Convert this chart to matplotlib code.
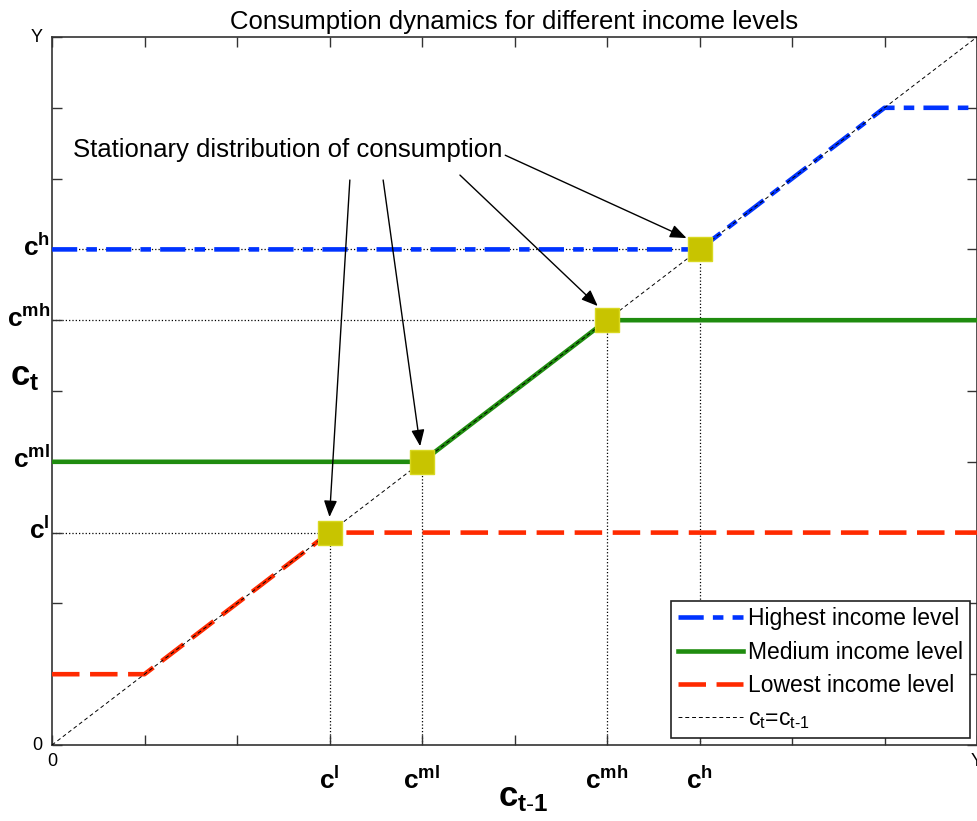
import numpy as np
import matplotlib
matplotlib.use("Agg")
import matplotlib.pyplot as plt

plt.rcParams['font.family'] = ['Liberation Sans', 'DejaVu Sans']
plt.rcParams['mathtext.fontset'] = 'custom'
plt.rcParams['mathtext.rm'] = 'Liberation Sans'
plt.rcParams['mathtext.it'] = 'Liberation Sans:italic'
plt.rcParams['mathtext.bf'] = 'Liberation Sans:bold'

# piecewise consumption policies (c_{t-1} -> c_t), axis runs 0..Y (=10)
x_grid = [0, 1, 2, 3, 4, 5, 6, 7, 8, 9, 10]
low_x = [0, 1, 3, 10]
low_y = [1, 1, 3, 3]
med_x = [0, 4, 6, 10]
med_y = [4, 4, 6, 6]
high_x = [0, 7, 9, 10]
high_y = [7, 7, 9, 9]
stat_pts = [3, 4, 6, 7]   # c^l, c^ml, c^mh, c^h
tick_vals = [0, 3, 4, 6, 7, 10]
tick_labels = ['0', r'$\mathbf{c^{l}}$', r'$\mathbf{c^{ml}}$', r'$\mathbf{c^{mh}}$', r'$\mathbf{c^{h}}$', 'Y']

# annotation arrows: start, end (data units)
arrow_from = [(3.22, 7.98), (3.58, 7.98), (4.41, 8.05), (4.9, 8.33)]
arrow_to = [(3.0, 3.22), (3.98, 4.22), (5.9, 6.2), (6.86, 7.16)]

fig = plt.figure(figsize=(9.77, 8.21), dpi=100)
ax = fig.add_axes([52/977, 76/821, 925/977, 708/821])

# dotted guides
for p in stat_pts:
    ax.plot([p, p], [0, p], color='k', ls=':', lw=0.9, zorder=1)
    ax.plot([0, p], [p, p], color='k', ls=':', lw=0.9, zorder=1)

h_high, = ax.plot(high_x, high_y, color='#0033ff', lw=3.3, ls=(0, (5.5, 2, 2.3, 2)), zorder=3,
                  label='Highest income level')
h_med, = ax.plot(med_x, med_y, color='#1f8c0f', lw=3.3, ls='-', zorder=3, label='Medium income level')
h_low, = ax.plot(low_x, low_y, color='#ff2a00', lw=3.3, ls=(0, (6, 2.3)), zorder=3, label='Lowest income level')

# 45 degree line
h_diag, = ax.plot(x_grid, x_grid, color='k', ls=(0, (4, 3)), lw=0.7, zorder=4,
                  label=r'$\mathregular{c_t}$=$\mathregular{c_{t\text{-}1}}$')

ax.plot(stat_pts, stat_pts, ls='none', marker='s', ms=17, color='#c8c400',
        markeredgecolor='#d8d820', zorder=5)

ax.text(0.23, 8.4, 'Stationary distribution of consumption', fontsize=18.5, va='center')
for s, t in zip(arrow_from, arrow_to):
    ax.annotate('', xy=t, xytext=s,
                arrowprops=dict(arrowstyle='-|>,head_length=1.0,head_width=0.4', color='k', lw=1.0,
                                shrinkA=0, shrinkB=0))

ax.set_xlim(0, 10)
ax.set_ylim(0, 10)
ax.set_xticks(x_grid)
ax.set_yticks(x_grid)
ax.set_xticklabels([''] * len(x_grid))
ax.set_yticklabels([''] * len(x_grid))
ax.tick_params(direction='in', length=7, width=1, top=True, right=True, color='#333333')

for v, lab in zip(tick_vals, tick_labels):
    if lab.startswith('$'):
        ax.text(v, -0.31, lab, ha='center', va='top', fontsize=19, clip_on=False)
        ax.text(-0.02, v + 0.03, lab, ha='right', va='center', fontsize=19, clip_on=False)
    else:
        ax.text(v, -0.12, lab, ha='center', va='top', fontsize=13, clip_on=False)
        ax.text(-0.1, v, lab, ha='right', va='center', fontsize=13, clip_on=False)

ax.text(5.1, -0.74, r'$\mathbf{c_{t\text{-}1}}$', ha='center', va='center', fontsize=25)
ax.text(-0.3, 5.2, r'$\mathbf{c_{t}}$', ha='center', va='center', fontsize=25)

ax.set_title('Consumption dynamics for different income levels', fontsize=18.5, pad=6)

for sp in ax.spines.values():
    sp.set_linewidth(1.2)
    sp.set_color('#333333')

leg = ax.legend(handles=[h_high, h_med, h_low, h_diag], loc='lower right', fontsize=16.5, frameon=True,
                fancybox=False, framealpha=1, edgecolor='#222222', handlelength=2.8, borderaxespad=0.3,
                labelspacing=0.45, handletextpad=0.25, borderpad=0.3)
leg.get_frame().set_linewidth(1.2)

fig.savefig('out.png', dpi=100)
